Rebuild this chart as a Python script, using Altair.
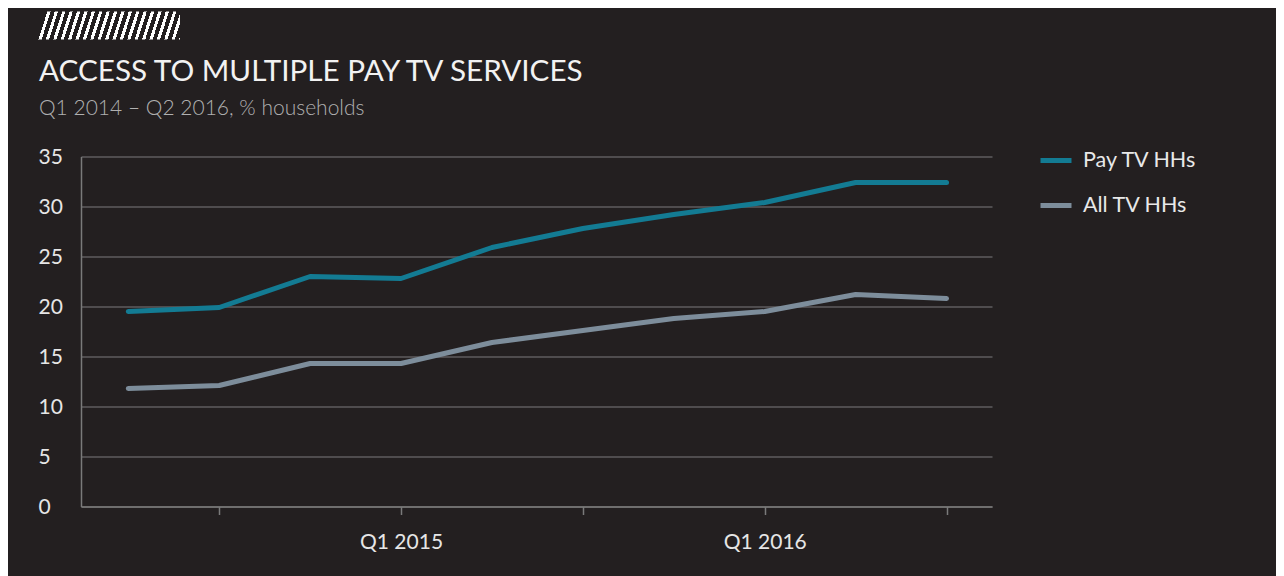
import altair as alt
import pandas as pd

# ---- data ----
period_index = [0, 1, 2, 3, 4, 5, 6, 7, 8, 9]
pay_tv_hhs = [19.5, 19.9, 23.0, 22.8, 25.9, 27.8, 29.2, 30.4, 32.4, 32.4]
all_tv_hhs = [11.8, 12.1, 14.3, 14.3, 16.4, 17.6, 18.8, 19.5, 21.2, 20.8]
series_names = ["Pay TV HHs", "All TV HHs"]
x_tick_values = [1, 3, 5, 7, 9]
x_tick_labels = ["", "Q1 2015", "", "Q1 2016", ""]
y_tick_values = [0, 5, 10, 15, 20, 25, 30, 35]

title_text = "ACCESS TO MULTIPLE PAY TV SERVICES"
subtitle_text = "Q1 2014 \u2013 Q2 2016, % households"

# ---- styles ----
BG = "#231f20"
TEAL = "#137b93"
GREY = "#7d8d9b"
FONT = "Lato"

rows = []
for i, p, a in zip(period_index, pay_tv_hhs, all_tv_hhs):
    rows.append({"idx": i, "series": series_names[0], "value": p})
    rows.append({"idx": i, "series": series_names[1], "value": a})
df = pd.DataFrame(rows)

label_map = "{" + ", ".join(f"'{v}': '{t}'" for v, t in zip(x_tick_values, x_tick_labels)) + "}"

lines = alt.Chart(df).mark_line(strokeWidth=5, strokeCap="round", strokeJoin="round").encode(
    x=alt.X(
        "idx:Q",
        scale=alt.Scale(domain=[-0.52, 9.5], nice=False, zero=False),
        axis=alt.Axis(
            title=None,
            values=x_tick_values,
            labelExpr=f"{label_map}[datum.value + ''] || ''",
            grid=False,
            domain=True,
            domainColor="#7a7a7a",
            domainWidth=1.5,
            ticks=True,
            tickColor="#7a7a7a",
            tickWidth=1.5,
            tickSize=8,
            labelPadding=17,
            labelFontSize=21,
            labelColor="#e6e6e6",
            labelFont=FONT,
        ),
    ),
    y=alt.Y(
        "value:Q",
        scale=alt.Scale(domain=[0, 35], nice=False),
        axis=alt.Axis(
            title=None,
            values=y_tick_values,
            grid=True,
            gridColor="#5f5d5e",
            gridWidth=1.5,
            domain=True,
            domainColor="#7a7a7a",
            domainWidth=1.5,
            ticks=False,
            tickSize=0,
            labelAlign="left",
            labelBaseline="middle",
            labelPadding=43,
            labelOffset=1,
            labelFontSize=21,
            labelColor="#e6e6e6",
            labelFont=FONT,
        ),
    ),
    color=alt.Color(
        "series:N",
        scale=alt.Scale(domain=series_names, range=[TEAL, GREY]),
        legend=alt.Legend(
            title=None,
            orient="none",
            legendX=957,
            legendY=-14,
            padding=0,
            symbolType="stroke",
            symbolSize=961,
            symbolStrokeWidth=5,
            labelOffset=9,
            labelFontSize=21.5,
            labelColor="#e8e8e8",
            labelFont=FONT,
            rowPadding=16,
        ),
    ),
    order=alt.Order("idx:Q"),
)

# decorative hatch band above the title
W_PX, S_PX = 142.0, 9.0
a = S_PX / W_PX
c = (1 + a) / (1 + a * a)
stops = [alt.GradientStop(color="rgba(255,255,255,0)", offset=0)]
for k in range(20):
    xc = 11 + k * 7.4
    t0 = max(0.0, (xc - 1.6) / (W_PX + S_PX))
    t1 = min(1.0, (xc + 1.6) / (W_PX + S_PX))
    stops += [
        alt.GradientStop(color="rgba(255,255,255,0)", offset=t0),
        alt.GradientStop(color="#ffffff", offset=t0),
        alt.GradientStop(color="#ffffff", offset=t1),
        alt.GradientStop(color="rgba(255,255,255,0)", offset=t1),
    ]
stops.append(alt.GradientStop(color="rgba(255,255,255,0)", offset=1))

hatch = alt.Chart(pd.DataFrame({"k": [0]})).mark_rect(
    fill=alt.LinearGradient(gradient="linear", stops=stops, x1=0, y1=0, x2=c, y2=c * a),
    strokeWidth=0,
).encode(
    x=alt.value(-43),
    x2=alt.value(-43 + W_PX),
    y=alt.value(-145),
    y2=alt.value(-117),
)

chart = alt.layer(lines, hatch).properties(
    width=911,
    height=350,
    autosize=alt.AutoSizeParams(type="none"),
    padding={"left": 73, "top": 148.5, "right": 284, "bottom": 69.5},
    title=alt.TitleParams(
        text=title_text,
        subtitle=subtitle_text,
        anchor="start",
        frame="group",
        dx=-42,
        offset=-108.5,
        font=FONT,
        fontSize=29.7,
        fontWeight=400,
        color="#f2f2f2",
        subtitleFont=FONT,
        subtitleFontSize=21,
        subtitleFontWeight=300,
        subtitleColor="#b0b0b0",
        subtitlePadding=10,
    ),
).configure(
    background=BG,
    font=FONT,
).configure_view(stroke=None)

chart.save("out.html", embed_options={"renderer": "svg", "actions": False})
